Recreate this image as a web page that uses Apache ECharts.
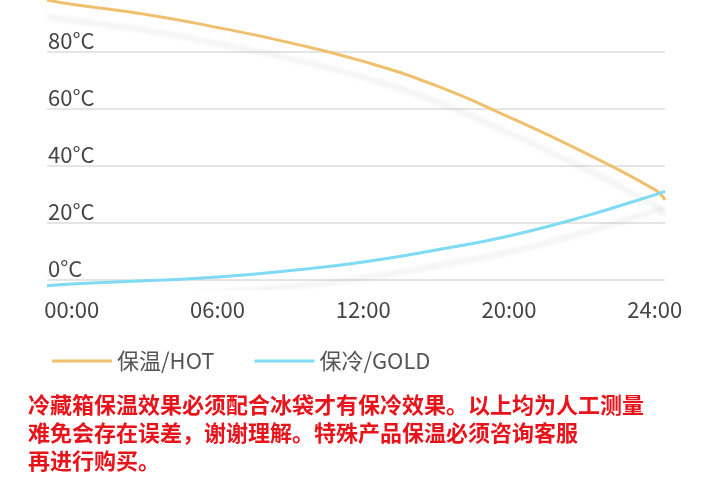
<!DOCTYPE html>
<html><head><meta charset="utf-8">
<script src="https://cdn.jsdelivr.net/npm/echarts@6/dist/echarts.min.js"></script>
<style>html,body{margin:0;background:#fff}#c{width:720px;height:485px}</style>
</head><body><div id="c"></div>
<script>
var xLabels = ['00:00', '06:00', '12:00', '20:00', '24:00'];
var yTicks = [0, 20, 40, 60, 80];
var hotData = [[-0.17, 98], [0, 96.5], [0.5, 93], [1, 88.4], [1.5, 83], [2, 76.5], [2.5, 68], [3, 57], [3.5, 45], [4, 31.6], [4.07, 28]];
var coldData = [[-0.17, -2], [0, -1.4], [0.5, -0.3], [1, 1], [1.5, 3.3], [2, 6.3], [2.5, 10.5], [3, 15.4], [3.5, 22], [4, 29.8], [4.07, 31]];
var note = '冷藏箱保温效果必须配合冰袋才有保冷效果。以上均为人工测量\n难免会存在误差，谢谢理解。特殊产品保温必须咨询客服\n再进行购买。';

var chart = echarts.init(document.getElementById('c'));
var font = '"Noto Sans CJK SC", "Noto Sans", sans-serif';
function lineSeries(name, data, color) {
    return {
        type: 'line', name: name, data: data, smooth: true, symbol: 'none',
        lineStyle: {color: color, width: 3, shadowColor: 'rgba(0,0,0,0.09)', shadowBlur: 5, shadowOffsetY: 16},
        itemStyle: {color: color}
    };
}
chart.setOption({
    animation: false,
    textStyle: {fontFamily: font},
    grid: {left: 47, right: 55, top: 0, bottom: 485 - 288.5},
    xAxis: {
        type: 'value', min: -0.17, max: 4.07,
        axisLine: {show: false}, axisTick: {show: false}, splitLine: {show: false},
        axisLabel: {customValues: [0, 1, 2, 3, 4], formatter: function (v) { return xLabels[v]; },
            color: '#444', fontSize: 22, margin: 10}
    },
    yAxis: {
        type: 'value', min: -3, max: 98,
        axisLine: {show: false},
        axisTick: {show: false, customValues: yTicks},
        splitLine: {show: true, lineStyle: {color: '#ddd', width: 1.5}},
        axisLabel: {customValues: yTicks, inside: true, verticalAlign: 'bottom', margin: 1,
            formatter: '{value}°C', color: '#444', fontSize: 22}
    },
    legend: {
        bottom: 108, left: 47, itemWidth: 60, itemHeight: 3, itemGap: 40,
        textStyle: {color: '#555', fontSize: 22},
        data: [{name: '保温/HOT', icon: 'rect'}, {name: '保冷/GOLD', icon: 'rect'}]
    },
    graphic: [{
        type: 'text', left: 28, top: 391,
        style: {text: note, fill: '#e8141b', font: 'bold 22px ' + font, lineHeight: 28}
    }],
    series: [lineSeries('保温/HOT', hotData, '#efc06e'), lineSeries('保冷/GOLD', coldData, '#7fdaf3')]
});
</script></body></html>
